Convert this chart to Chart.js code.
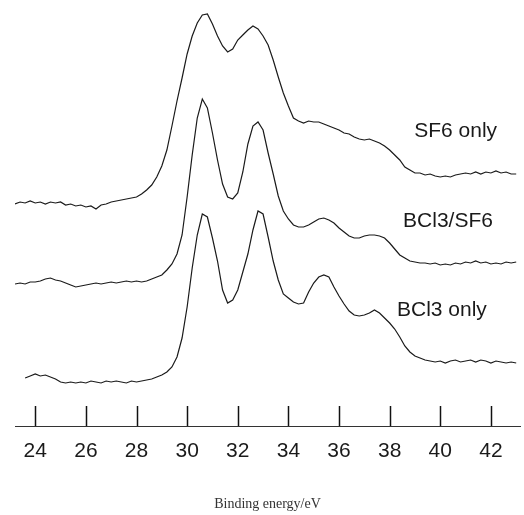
<!DOCTYPE html>
<html>
<head>
<meta charset="utf-8">
<script src="https://cdn.jsdelivr.net/npm/chart.js@4"></script>
<style>
  body { margin: 0; background: #fff; }
  canvas { display: block; }
</style>
</head>
<body>
<canvas id="xpsChart" width="524" height="515"></canvas>
<script>
// binding energy (eV) of each sample point
const energies = [
  23.2, 23.4, 23.6, 23.8, 24.0, 24.2, 24.4, 24.6, 24.8, 25.0,
  25.2, 25.4, 25.6, 25.8, 26.0, 26.2, 26.4, 26.6, 26.8, 27.0,
  27.2, 27.4, 27.6, 27.8, 28.0, 28.2, 28.4, 28.6, 28.8, 29.0,
  29.2, 29.4, 29.6, 29.8, 30.0, 30.2, 30.4, 30.6, 30.8, 31.0,
  31.2, 31.4, 31.6, 31.8, 32.0, 32.2, 32.4, 32.6, 32.8, 33.0,
  33.2, 33.4, 33.6, 33.8, 34.0, 34.2, 34.4, 34.6, 34.8, 35.0,
  35.2, 35.4, 35.6, 35.8, 36.0, 36.2, 36.4, 36.6, 36.8, 37.0,
  37.2, 37.4, 37.6, 37.8, 38.0, 38.2, 38.4, 38.6, 38.8, 39.0,
  39.2, 39.4, 39.6, 39.8, 40.0, 40.2, 40.4, 40.6, 40.8, 41.0,
  41.2, 41.4, 41.6, 41.8, 42.0, 42.2, 42.4, 42.6, 42.8, 43.0
];

// intensity (a.u., already offset as stacked in the figure)
const sf6Only = [
  222, 224, 223, 225, 223, 224, 222, 224, 223, 224,
  221, 222, 220, 221, 219, 220, 217, 221, 222, 224,
  225, 226, 227, 228, 229, 232, 236, 241, 249, 260,
  276, 300, 325, 348, 372, 390, 403, 411, 412, 402,
  390, 380, 374, 377, 386, 391, 396, 400, 397, 390,
  381, 366, 349, 333, 320, 308, 305, 303, 305, 304,
  304, 302, 300, 298, 296, 293, 292, 289, 287, 286,
  287, 285, 283, 280, 276, 271, 266, 259, 256, 253,
  253, 251, 252, 250, 249, 250, 249, 251, 252, 253,
  252, 254, 252, 254, 253, 255, 253, 254, 252, 252
];

const bcl3Sf6 = [
  142, 143, 142, 144, 144, 145, 147, 148, 146, 145,
  143, 141, 139, 140, 141, 142, 143, 142, 143, 144,
  143, 144, 145, 144, 145, 144, 145, 147, 149, 151,
  156, 162, 172, 191, 229, 271, 308, 327, 318, 293,
  266, 242, 229, 227, 233, 254, 282, 300, 304, 296,
  273, 252, 230, 215, 207, 201, 199, 199, 201, 204,
  207, 208, 206, 203, 198, 194, 190, 188, 188, 190,
  191, 191, 190, 188, 183, 177, 171, 168, 165, 164,
  163, 163, 162, 163, 161, 162, 161, 163, 162, 164,
  163, 165, 163, 164, 162, 163, 162, 164, 163, 164
];

const bcl3Only = [
  null, null, 48, 50, 52, 50, 51, 49, 47, 44,
  43, 44, 43, 44, 43, 45, 44, 43, 45, 44,
  45, 44, 43, 45, 44, 45, 46, 47, 49, 51,
  54, 59, 69, 88, 119, 158, 191, 212, 209, 188,
  165, 136, 123, 126, 136, 154, 172, 196, 215, 212,
  189, 165, 146, 132, 128, 124, 122, 123, 134, 143,
  149, 151, 149, 139, 130, 122, 115, 111, 110, 111,
  113, 116, 113, 108, 103, 97, 89, 80, 74, 70,
  68, 66, 65, 64, 65, 63, 65, 66, 64, 65,
  66, 64, 66, 65, 63, 65, 64, 63, 64, 63
];

const seriesNames = ['SF6 only', 'BCl3/SF6', 'BCl3 only'];
const tickValues = [24, 26, 28, 30, 32, 34, 36, 38, 40, 42];

const toPoints = arr => energies.map((x, i) => ({ x: x, y: arr[i] }));

// upward tick marks sitting on the axis line
const upTicks = {
  id: 'upTicks',
  afterDraw(chart) {
    const ctx = chart.ctx;
    const sx = chart.scales.x;
    const base = chart.chartArea.bottom;
    ctx.save();
    ctx.strokeStyle = '#111';
    ctx.lineWidth = 1.5;
    sx.ticks.forEach(t => {
      const px = Math.round(sx.getPixelForValue(t.value)) + 0.5;
      ctx.beginPath();
      ctx.moveTo(px, base);
      ctx.lineTo(px, base - 20);
      ctx.stroke();
    });
    ctx.restore();
  }
};

// series names written next to the curves
const curveNames = {
  id: 'curveNames',
  afterDatasetsDraw(chart, args, opts) {
    const ctx = chart.ctx;
    const sx = chart.scales.x, sy = chart.scales.y;
    ctx.save();
    ctx.font = '21px "Liberation Sans", Arial, sans-serif';
    ctx.fillStyle = '#1a1a1a';
    ctx.textAlign = 'left';
    ctx.textBaseline = 'alphabetic';
    opts.anchors.forEach((a, i) => {
      ctx.fillText(chart.data.datasets[i].label, sx.getPixelForValue(a[0]), sy.getPixelForValue(a[1]));
    });
    ctx.restore();
  }
};

const lineStyle = {
  borderColor: '#1a1a1a',
  borderWidth: 1.2,
  pointRadius: 0,
  tension: 0,
  fill: false
};

new Chart(document.getElementById('xpsChart'), {
  type: 'line',
  data: {
    datasets: [
      { label: seriesNames[0], data: toPoints(sf6Only), ...lineStyle },
      { label: seriesNames[1], data: toPoints(bcl3Sf6), ...lineStyle },
      { label: seriesNames[2], data: toPoints(bcl3Only), ...lineStyle }
    ]
  },
  options: {
    responsive: false,
    animation: false,
    layout: { padding: { left: 15, right: 4, top: 0, bottom: 0 } },
    plugins: {
      legend: { display: false },
      tooltip: { enabled: false },
      curveNames: { anchors: [[38.97, 289], [38.53, 199], [38.29, 110]] }
    },
    scales: {
      x: {
        type: 'linear',
        min: 23.2,
        max: 43.15,
        afterBuildTicks: s => { s.ticks = tickValues.map(v => ({ value: v })); },
        grid: { display: false, drawTicks: false },
        border: { display: true, color: '#333', width: 1 },
        ticks: {
          color: '#1a1a1a',
          padding: 13,
          font: { family: '"Liberation Sans", Arial, sans-serif', size: 21 }
        },
        title: {
          display: true,
          text: 'Binding energy/eV',
          color: '#333',
          font: { family: '"Liberation Serif", "Times New Roman", serif', size: 14 },
          padding: { top: 19, bottom: 2 }
        }
      },
      y: {
        display: false,
        min: 0,
        max: 426
      }
    }
  },
  plugins: [upTicks, curveNames]
});
</script>
</body>
</html>
